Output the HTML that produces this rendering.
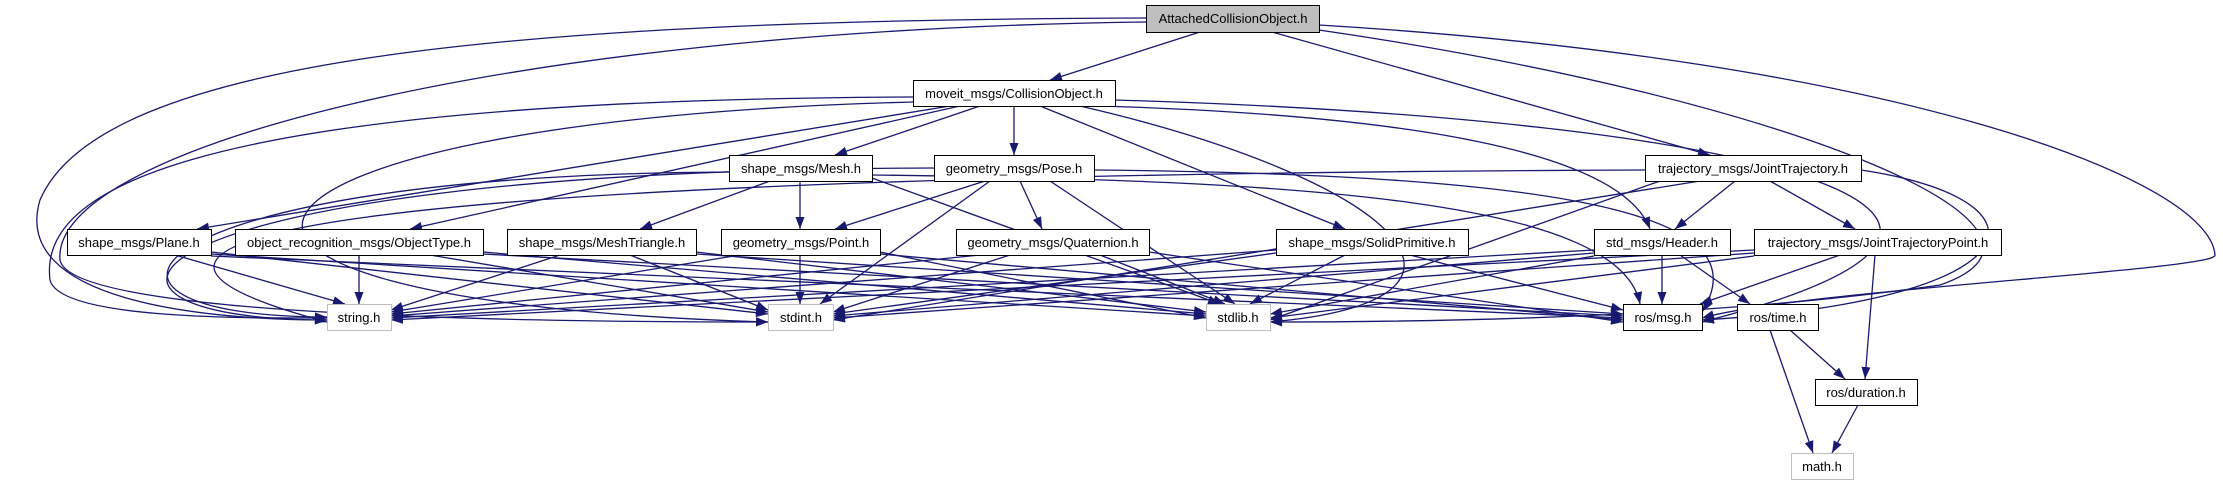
<!DOCTYPE html>
<html><head><meta charset="utf-8"><style>
html,body{margin:0;padding:0;background:#fff;}
svg{display:block;}
text{font-family:"Liberation Sans",sans-serif;font-size:13px;fill:#000;}
</style></head><body>
<svg width="2223" height="485" viewBox="0 0 2223 485" xmlns="http://www.w3.org/2000/svg">
<defs>
<marker id="a" markerWidth="12" markerHeight="9" refX="12" refY="4.5" orient="auto" markerUnits="userSpaceOnUse">
<path d="M0,0 L12,4.5 L0,9 z" fill="#191970"/>
</marker>
</defs>
<g fill="none" stroke="#191970" stroke-width="1.3" marker-end="url(#a)">
<path d="M1200,32 L1050,80"/>
<path d="M1272,32 L1710,155"/>
<path d="M980,106 L835,155"/>
<path d="M1014,106 L1014,155"/>
<path d="M950,106 L197,229"/>
<path d="M960,106 L410,229"/>
<path d="M1040,106 L1345,229"/>
<path d="M1100,106 C1400,115 1620,150 1650,229"/>
<path d="M770,181 L640,229"/>
<path d="M800,181 L800,229"/>
<path d="M985,181 L835,229"/>
<path d="M1020,181 L1042,229"/>
<path d="M1735,181 L1675,229"/>
<path d="M1770,181 L1855,229"/>
<path d="M1662,255 L1662,304"/>
<path d="M1680,255 L1750,304"/>
<path d="M1875,255 L1865,379"/>
<path d="M1840,255 L1700,304"/>
<path d="M1790,330 L1845,379"/>
<path d="M1770,330 L1813,453"/>
<path d="M1858,405 L1832,453"/>
<path d="M175,255 L345,304"/>
<path d="M211,252 L768,314"/>
<path d="M211,254 L1206,316"/>
<path d="M211,256 L1623,318"/>
<path d="M359,255 L359,304"/>
<path d="M430,255 L768,312"/>
<path d="M483,252 L1206,314"/>
<path d="M483,254 L1623,316"/>
<path d="M560,255 L391,310"/>
<path d="M630,255 L768,310"/>
<path d="M696,252 L1206,312"/>
<path d="M696,254 L1623,314"/>
<path d="M740,255 L391,312"/>
<path d="M800,255 L800,304"/>
<path d="M880,252 L1206,318"/>
<path d="M880,254 L1623,320"/>
<path d="M980,255 L391,314"/>
<path d="M1010,255 L833,312"/>
<path d="M1100,255 L1225,304"/>
<path d="M1149,252 L1623,322"/>
<path d="M1276,250 L391,316"/>
<path d="M1276,253 L833,314"/>
<path d="M1345,255 L1250,304"/>
<path d="M1410,255 L1623,310"/>
<path d="M1594,250 L391,318"/>
<path d="M1594,253 L833,316"/>
<path d="M1594,256 L1270,314"/>
<path d="M1754,250 L391,320"/>
<path d="M1754,253 L833,318"/>
<path d="M1754,256 L1270,318"/>
<path d="M729,172 C120,175 40,317 327,317"/>
<path d="M872,178 L1220,304"/>
<path d="M872,175 C1300,180 1620,200 1640,304"/>
<path d="M934,168 C100,170 30,320 327,320"/>
<path d="M990,181 L820,304"/>
<path d="M1050,181 L1235,304"/>
<path d="M1094,170 C1600,175 1760,220 1702,312"/>
<path d="M1645,170 C300,175 20,240 327,322"/>
<path d="M1700,181 L833,320"/>
<path d="M1660,181 L1270,320"/>
<path d="M1861,170 C2060,200 2040,300 1702,320"/>
<path d="M913,97 C150,100 40,200 50,280 C60,320 250,318 327,318"/>
<path d="M913,102 C200,120 60,300 768,322"/>
<path d="M1080,106 C1400,180 1520,300 1270,322"/>
<path d="M1115,100 C1800,120 2100,220 1702,322"/>
<path d="M1146,18 C500,20 100,60 40,200 C10,300 200,320 327,320"/>
<path d="M1146,22 C500,30 50,150 60,260 C70,315 500,322 768,322"/>
<path d="M1319,30 C1800,100 2100,230 1940,285 C1700,320 1400,322 1270,322"/>
<path d="M1319,25 C1900,60 2210,180 2215,255 C2220,270 1800,290 1702,318"/>
</g>
<g stroke-width="1">
<rect x="1146.5" y="5.5" width="173" height="27" fill="#bfbfbf" stroke="#000"/>
<rect x="913.5" y="80.5" width="202" height="26" fill="#fff" stroke="#000"/>
<rect x="729.5" y="155.5" width="143" height="26" fill="#fff" stroke="#000"/>
<rect x="934.5" y="155.5" width="160" height="26" fill="#fff" stroke="#000"/>
<rect x="1645.5" y="155.5" width="216" height="26" fill="#fff" stroke="#000"/>
<rect x="67.5" y="229.5" width="144" height="26" fill="#fff" stroke="#000"/>
<rect x="235.5" y="229.5" width="248" height="26" fill="#fff" stroke="#000"/>
<rect x="507.5" y="229.5" width="189" height="26" fill="#fff" stroke="#000"/>
<rect x="721.5" y="229.5" width="159" height="26" fill="#fff" stroke="#000"/>
<rect x="956.5" y="229.5" width="193" height="26" fill="#fff" stroke="#000"/>
<rect x="1276.5" y="229.5" width="192" height="26" fill="#fff" stroke="#000"/>
<rect x="1594.5" y="229.5" width="136" height="26" fill="#fff" stroke="#000"/>
<rect x="1754.5" y="229.5" width="247" height="26" fill="#fff" stroke="#000"/>
<rect x="327.5" y="304.5" width="64" height="26" fill="#fff" stroke="#bfbfbf"/>
<rect x="768.5" y="304.5" width="65" height="26" fill="#fff" stroke="#bfbfbf"/>
<rect x="1206.5" y="304.5" width="64" height="26" fill="#fff" stroke="#bfbfbf"/>
<rect x="1623.5" y="304.5" width="79" height="26" fill="#fff" stroke="#000"/>
<rect x="1737.5" y="304.5" width="81" height="26" fill="#fff" stroke="#000"/>
<rect x="1815.5" y="379.5" width="102" height="26" fill="#fff" stroke="#000"/>
<rect x="1791.5" y="453.5" width="62" height="26" fill="#fff" stroke="#bfbfbf"/>
</g>
<g text-anchor="middle">
<text x="1233" y="23">AttachedCollisionObject.h</text>
<text x="1014" y="98">moveit_msgs/CollisionObject.h</text>
<text x="801" y="173">shape_msgs/Mesh.h</text>
<text x="1014" y="173">geometry_msgs/Pose.h</text>
<text x="1753" y="173">trajectory_msgs/JointTrajectory.h</text>
<text x="139" y="247">shape_msgs/Plane.h</text>
<text x="359" y="247">object_recognition_msgs/ObjectType.h</text>
<text x="602" y="247">shape_msgs/MeshTriangle.h</text>
<text x="801" y="247">geometry_msgs/Point.h</text>
<text x="1053" y="247">geometry_msgs/Quaternion.h</text>
<text x="1372" y="247">shape_msgs/SolidPrimitive.h</text>
<text x="1662" y="247">std_msgs/Header.h</text>
<text x="1878" y="247">trajectory_msgs/JointTrajectoryPoint.h</text>
<text x="359" y="322">string.h</text>
<text x="801" y="322">stdint.h</text>
<text x="1238" y="322">stdlib.h</text>
<text x="1663" y="322">ros/msg.h</text>
<text x="1778" y="322">ros/time.h</text>
<text x="1866" y="397">ros/duration.h</text>
<text x="1822" y="471">math.h</text>
</g>
</svg>
</body></html>
